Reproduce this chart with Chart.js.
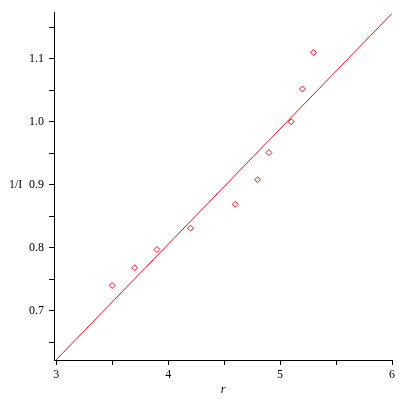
<!DOCTYPE html>
<html>
<head>
<meta charset="utf-8">
<script src="https://cdn.jsdelivr.net/npm/chart.js@4"></script>
<style>
  html, body { margin: 0; padding: 0; background: #fff; }
  #wrap { width: 400px; height: 400px; }
</style>
</head>
<body>
<div id="wrap"><canvas id="chart" width="400" height="400"></canvas></div>
<script>
// measured points (r, 1/I)
var rValues = [3.5, 3.7, 3.9, 4.2, 4.6, 4.8, 4.9, 5.1, 5.2, 5.3];
var invI = [0.740, 0.768, 0.797, 0.831, 0.869, 0.908, 0.951, 1.000, 1.052, 1.110];

// fitted line end points
var fitX = [3, 6];
var fitY = [0.622, 1.172];

var xTicks = [3, 3.5, 4, 4.5, 5, 5.5, 6];
var yTicks = [0.65, 0.7, 0.75, 0.8, 0.85, 0.9, 0.95, 1.0, 1.05, 1.1, 1.15];
var xLabels = ['3', '4', '5', '6'];
var yLabels = ['0.7', '0.8', '0.9', '1.0', '1.1'];

var red = 'rgb(225,15,35)';
var tickFont = { family: 'Liberation Serif', size: 12 };

function pts(xs, ys) {
    var out = [];
    for (let i = 0; i < xs.length; i++) {
        out.push({ x: xs[i], y: ys[i] });
    }
    return out;
}

// y title drawn horizontally like the original
const yTitle = {
    id: 'yTitle',
    afterDraw(chart) {
        const ctx = chart.ctx;
        const y = chart.scales.y.getPixelForValue(0.9);
        ctx.save();
        ctx.fillStyle = '#000';
        ctx.font = '12px "Liberation Serif"';
        ctx.textAlign = 'left';
        ctx.textBaseline = 'middle';
        ctx.fillText('1/I', 9, y);
        ctx.restore();
    }
};

const div = document.getElementById('chart');
new Chart(div, {
    data: {
        datasets: [
            {
                type: 'line',
                data: pts(fitX, fitY),
                borderColor: red,
                borderWidth: 1,
                pointRadius: 0,
                fill: false,
            },
            {
                type: 'scatter',
                data: pts(rValues, invI),
                pointStyle: 'rectRot',
                pointRadius: 3,
                borderColor: red,
                borderWidth: 1,
                backgroundColor: 'rgba(0,0,0,0)',
            }
        ]
    },
    options: {
        responsive: false,
        animation: false,
        layout: { padding: { top: 6, right: 8, left: 0, bottom: 3 } },
        plugins: { legend: { display: false }, tooltip: { enabled: false } },
        scales: {
            x: {
                type: 'linear',
                min: 2.98,
                max: 6,
                afterBuildTicks: (s) => { s.ticks = xTicks.map(v => ({ value: v })); },
                afterFit: (s) => { s.height = 37; },
                grid: { drawOnChartArea: false, tickLength: 5, color: '#000' },
                border: { color: '#000', width: 1 },
                ticks: {
                    color: '#000',
                    font: tickFont,
                    padding: 3,
                    maxRotation: 0,
                    autoSkip: false,
                    callback: (v) => xLabels.indexOf(String(v)) >= 0 ? String(v) : ''
                },
                title: {
                    display: true,
                    text: 'r',
                    color: '#000',
                    font: { family: 'Liberation Serif', size: 12, style: 'italic' },
                    padding: { top: 0, bottom: 0 }
                }
            },
            y: {
                type: 'linear',
                min: 0.6216,
                max: 1.174,
                afterBuildTicks: (s) => { s.ticks = yTicks.map(v => ({ value: v })); },
                afterFit: (s) => { s.width = 54; },
                grid: { drawOnChartArea: false, tickLength: 5, color: '#000' },
                border: { color: '#000', width: 1 },
                ticks: {
                    color: '#000',
                    font: tickFont,
                    padding: 5,
                    autoSkip: false,
                    callback: (v) => {
                        const t = v.toFixed(1);
                        return (yLabels.indexOf(t) >= 0 && Math.abs(v - parseFloat(t)) < 1e-6) ? t : '';
                    }
                }
            }
        }
    },
    plugins: [yTitle]
});
</script>
</body>
</html>
